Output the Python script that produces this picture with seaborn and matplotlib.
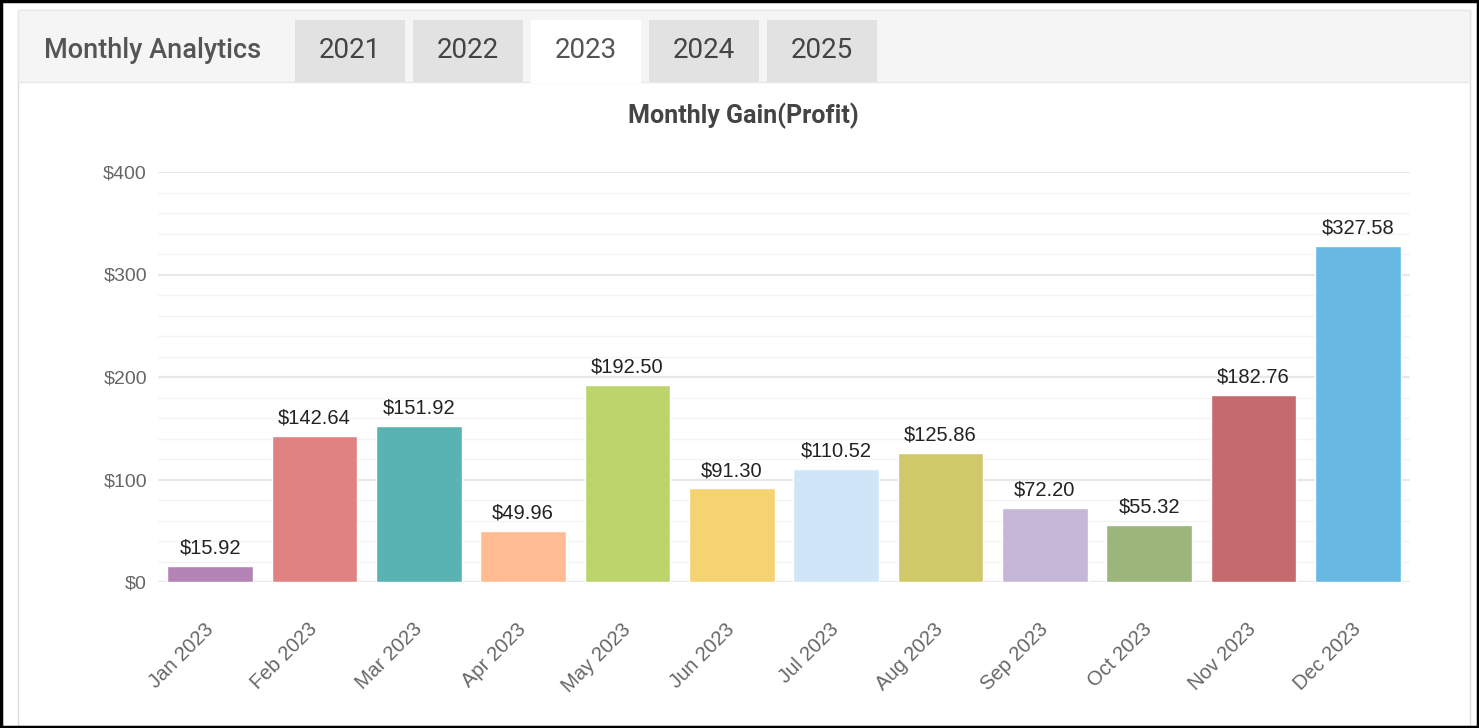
import numpy as np
import pandas as pd
import seaborn as sns
import matplotlib.pyplot as plt
from matplotlib.patches import Rectangle
from matplotlib.ticker import MultipleLocator, FuncFormatter

# Data
months = ['Jan 2023', 'Feb 2023', 'Mar 2023', 'Apr 2023', 'May 2023', 'Jun 2023',
          'Jul 2023', 'Aug 2023', 'Sep 2023', 'Oct 2023', 'Nov 2023', 'Dec 2023']
gains = [15.92, 142.64, 151.92, 49.96, 192.50, 91.30,
         110.52, 125.86, 72.20, 55.32, 182.76, 327.58]
bar_colors = ['#b584b6', '#e08282', '#5ab3b3', '#ffbb91', '#bdd46c', '#f5d372',
              '#d0e5f8', '#d0c96a', '#c6b6d8', '#9bb57b', '#c56b6e', '#67b9e3']
years = ['2021', '2022', '2023', '2024', '2025']
active_year = '2023'

sns.set_theme(style='white')
plt.rcParams['font.family'] = ['Liberation Sans', 'DejaVu Sans']

W, H = 1479, 728
fig = plt.figure(figsize=(W / 100, H / 100), dpi=100)

# background layer in pixel coordinates
bg = fig.add_axes([0, 0, 1, 1])
bg.set_xlim(0, W)
bg.set_ylim(H, 0)
bg.axis('off')

# panel + header bar
bg.add_patch(Rectangle((18, 10), 1452, 740, fc='white', ec='#dcdcdc', lw=1))
bg.add_patch(Rectangle((18, 10), 1452, 72, fc='#f5f5f5', ec='#e8e8e8', lw=1))
bg.text(44, 51, 'Monthly Analytics', fontsize=19.5, fontweight='medium', color='#555555',
        family='Roboto', va='center', ha='left')

for i, yr in enumerate(years):
    x0 = 295 + i * 118
    active = yr == active_year
    bg.add_patch(Rectangle((x0, 20), 110, 63 if active else 62,
                           fc='white' if active else '#e2e2e2', ec='none'))
    bg.text(x0 + 55, 51, yr, fontsize=20, color='#555555' if active else '#444444',
            family='Roboto', va='center', ha='center')

bg.text(743, 116, 'Monthly Gain(Profit)', fontsize=18, fontweight='bold', color='#444444',
        family='Roboto', ha='center', va='center')

# outer frame
bg.add_patch(Rectangle((1, 1), W - 2, H - 2, fill=False, ec='black', lw=2.5))

# chart
ax = fig.add_axes([158 / W, (H - 582) / H, 1252 / W, 410 / H])
ax.patch.set_alpha(0)
sns.barplot(x=months, y=gains, hue=months, palette=bar_colors, width=0.82,
            saturation=1, legend=False, ax=ax)

for cont in ax.containers:
    ax.bar_label(cont, labels=[f'${v:.2f}' for v in cont.datavalues],
                 padding=6, fontsize=14.5, color='#222222')

ax.set_ylim(0, 400)
ax.yaxis.set_major_locator(MultipleLocator(100))
ax.yaxis.set_minor_locator(MultipleLocator(20))
ax.yaxis.set_major_formatter(FuncFormatter(lambda v, p: f'${v:.0f}'))
ax.grid(which='major', axis='y', color='#e8e8e8', lw=1.6)
ax.grid(which='minor', axis='y', color='#f4f4f4', lw=1)
ax.set_axisbelow(True)
for s in ax.spines.values():
    s.set_visible(False)
ax.tick_params(axis='y', which='both', length=0, pad=8, labelsize=14, labelcolor='#666666')
ax.tick_params(axis='x', length=0, pad=32, labelsize=14.5, labelcolor='#666666')
plt.setp(ax.get_xticklabels(), rotation=45, ha='right', va='center', rotation_mode='anchor')
ax.set_xlabel('')
ax.set_ylabel('')

fig.savefig('out.png', dpi=100)
